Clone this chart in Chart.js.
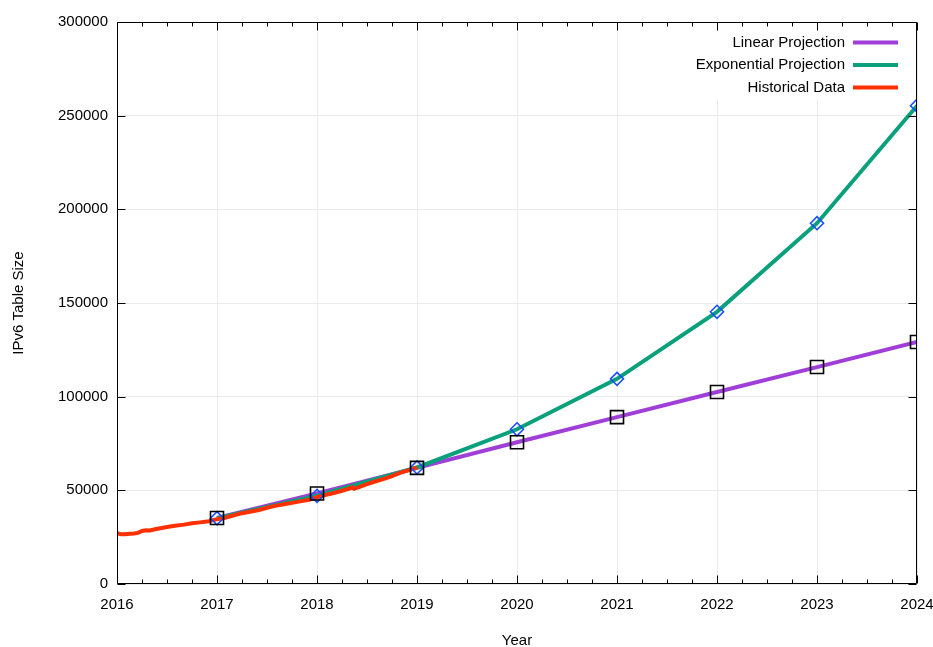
<!DOCTYPE html>
<html>
<head>
<meta charset="utf-8">
<script src="https://cdn.jsdelivr.net/npm/chart.js@4/dist/chart.umd.min.js"></script>
<style>
  body { margin: 0; background: #fff; }
  #wrap { width: 933px; height: 647px; }
</style>
</head>
<body>
<div id="wrap"><canvas id="chart" width="933" height="647"></canvas></div>
<script>
// values
const projYears = [2017, 2018, 2019, 2020, 2021, 2022, 2023, 2024];
const linearValues = [35200, 48300, 62000, 75700, 89100, 102500, 115800, 129200];
const expValues = [35100, 47100, 62200, 82600, 109500, 145300, 192600, 255300];

const histYears = [
  2016.00, 2016.04, 2016.08, 2016.13, 2016.17, 2016.21, 2016.25, 2016.29, 2016.33, 2016.38,
  2016.42, 2016.50, 2016.58, 2016.67, 2016.75, 2016.83, 2016.92, 2017.00, 2017.08, 2017.17,
  2017.25, 2017.33, 2017.42, 2017.50, 2017.58, 2017.67, 2017.75, 2017.83, 2017.92, 2018.00,
  2018.08, 2018.17, 2018.25, 2018.33, 2018.35, 2018.37, 2018.42, 2018.50, 2018.58, 2018.67,
  2018.75, 2018.83, 2018.92, 2019.00
];
const histValues = [
  27100, 26600, 26500, 26800, 27000, 27300, 28300, 28700, 28600, 29200,
  29600, 30400, 31100, 31700, 32400, 32900, 33500, 34600, 35400, 36700,
  37800, 38600, 39500, 40700, 41700, 42600, 43300, 44100, 45000, 46300,
  47500, 48600, 49800, 51000, 51700, 50800, 51700, 53300, 54700, 56100,
  57600, 59300, 60800, 62200
];

const xTicks = [2016, 2017, 2018, 2019, 2020, 2021, 2022, 2023, 2024];
const yTicks = [0, 50000, 100000, 150000, 200000, 250000, 300000];

const FONT = '"Liberation Sans", Arial, Helvetica, sans-serif';
const PURPLE = '#a03fd8';
const GREEN = '#0aa07c';
const RED = '#ff3000';

const pts = (xs, ys) => xs.map((x, i) => ({ x: x, y: ys[i] }));

// gnuplot style frame: border on all sides, inward major/minor ticks, opaque key
const framePlugin = {
  id: 'frame',
  afterDatasetsDraw(chart) {
    const { ctx, chartArea: a, scales } = chart;
    const xs = scales.x, ys = scales.y;
    const L = Math.round(a.left) + 0.5, R = Math.round(a.right) - 0.5;
    const T = Math.round(a.top) + 0.5, B = Math.round(a.bottom) - 0.5;
    ctx.save();
    ctx.strokeStyle = '#000';
    ctx.lineWidth = 1;
    ctx.beginPath();
    ctx.rect(L, T, R - L, B - T);
    for (let v = xTicks[0]; v <= xTicks[xTicks.length - 1] + 1e-9; v += 0.25) {
      const px = Math.round(xs.getPixelForValue(v)) + 0.5;
      const len = Math.abs(v - Math.round(v)) < 1e-6 ? 8 : 4;
      ctx.moveTo(px, B); ctx.lineTo(px, B - len);
      ctx.moveTo(px, T); ctx.lineTo(px, T + len);
    }
    yTicks.forEach(v => {
      const py = Math.round(ys.getPixelForValue(v)) + 0.5;
      ctx.moveTo(L, py); ctx.lineTo(L + 8, py);
      ctx.moveTo(R, py); ctx.lineTo(R - 8, py);
    });
    ctx.stroke();

    // key
    const items = chart.data.datasets.slice(0, 3).map(d => ({ label: d.label, color: d.borderColor }));
    ctx.fillStyle = '#fff';
    ctx.fillRect(680, 31, 228, 68);
    ctx.font = '15px ' + FONT;
    ctx.textAlign = 'right';
    ctx.textBaseline = 'middle';
    items.forEach((it, i) => {
      const cy = 42.5 + i * 22.5;
      ctx.fillStyle = '#000';
      ctx.fillText(it.label, 845, cy);
      ctx.strokeStyle = it.color;
      ctx.lineWidth = 4;
      ctx.beginPath();
      ctx.moveTo(853, cy);
      ctx.lineTo(898, cy);
      ctx.stroke();
    });
    ctx.restore();
  }
};

new Chart(document.getElementById('chart'), {
  type: 'line',
  data: {
    datasets: [
      {
        label: 'Linear Projection',
        data: pts(projYears, linearValues),
        borderColor: PURPLE,
        borderWidth: 4,
        pointRadius: 0,
        order: 4
      },
      {
        label: 'Exponential Projection',
        data: pts(projYears, expValues),
        borderColor: GREEN,
        borderWidth: 4,
        pointRadius: 0,
        order: 3
      },
      {
        label: 'Historical Data',
        data: pts(histYears, histValues),
        borderColor: RED,
        borderWidth: 4,
        pointRadius: 0,
        order: 2
      },
      {
        label: 'exp points',
        data: pts(projYears, expValues),
        showLine: false,
        pointStyle: 'rectRot',
        pointRadius: 6.5,
        pointBorderWidth: 1.6,
        pointBorderColor: '#1a4dff',
        pointBackgroundColor: 'rgba(0,0,0,0)',
        order: 1
      },
      {
        label: 'linear points',
        data: pts(projYears, linearValues),
        showLine: false,
        pointStyle: 'rect',
        pointRadius: 9.2,
        pointBorderWidth: 1.6,
        pointBorderColor: '#000',
        pointBackgroundColor: 'rgba(0,0,0,0)',
        order: 0
      }
    ]
  },
  options: {
    responsive: false,
    animation: false,
    events: [],
    layout: { padding: { top: 22, right: 16, bottom: 0, left: 0 } },
    plugins: {
      legend: { display: false },
      tooltip: { enabled: false }
    },
    scales: {
      x: {
        type: 'linear',
        min: 2016,
        max: 2024,
        afterFit: s => { s.height = 63; s.paddingLeft = 0; s.paddingRight = 0; },
        afterBuildTicks: s => { s.ticks = xTicks.map(v => ({ value: v })); },
        ticks: {
          padding: 12,
          color: '#000',
          font: { family: FONT, size: 15 },
          maxRotation: 0,
          callback: v => String(v)
        },
        grid: { color: '#ebebeb', lineWidth: 1, drawTicks: false },
        border: { display: false },
        title: {
          display: true,
          text: 'Year',
          color: '#000',
          font: { family: FONT, size: 15, lineHeight: 0.8 },
          padding: { top: 0, bottom: 0 }
        }
      },
      y: {
        min: 0,
        max: 300000,
        afterFit: s => { s.width = 117; s.paddingTop = 0; s.paddingBottom = 0; },
        afterBuildTicks: s => { s.ticks = yTicks.map(v => ({ value: v })); },
        ticks: {
          padding: 9,
          color: '#000',
          font: { family: FONT, size: 15 },
          callback: v => String(v)
        },
        grid: { color: '#ebebeb', lineWidth: 1, drawTicks: false },
        border: { display: false },
        title: {
          display: true,
          text: 'IPv6 Table Size',
          color: '#000',
          font: { family: FONT, size: 15 },
          padding: { top: 10, bottom: 0 }
        }
      }
    }
  },
  plugins: [framePlugin]
});
</script>
</body>
</html>
